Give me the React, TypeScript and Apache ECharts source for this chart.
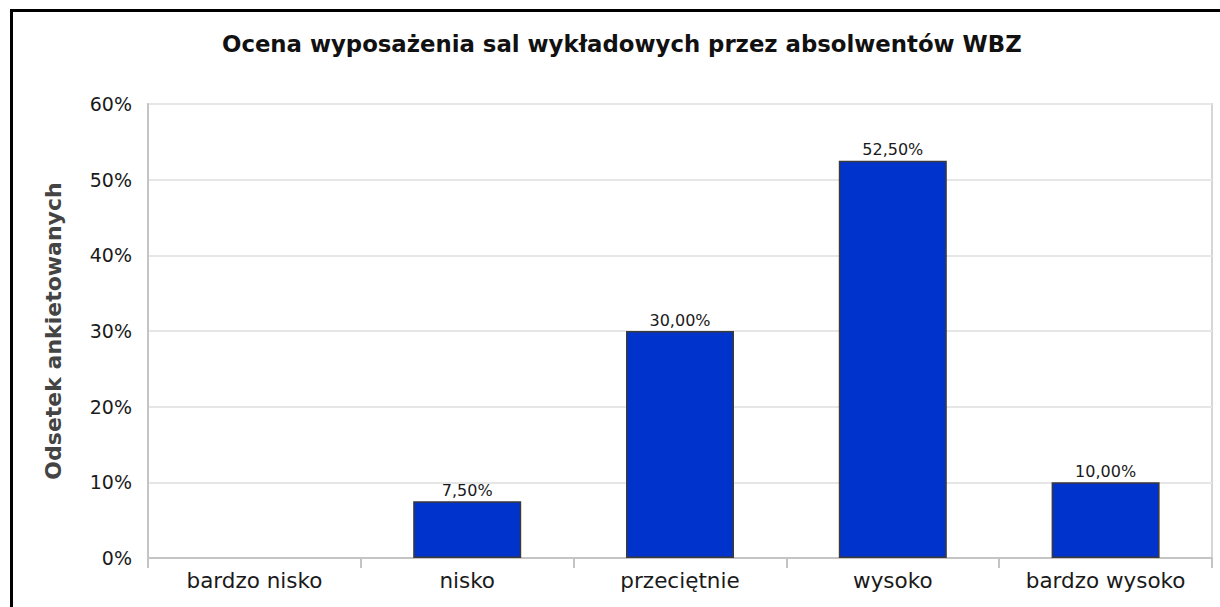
import React, { useEffect, useRef } from "react";
import * as echarts from "echarts";

const titleText = "Ocena wyposażenia sal wykładowych przez absolwentów WBZ";
const yAxisName = "Odsetek ankietowanych";
const categories = ["bardzo nisko", "nisko", "przeciętnie", "wysoko", "bardzo wysoko"];
const values = [0, 7.5, 30, 52.5, 10];
const yMin = 0;
const yMax = 60;
const yInterval = 10;

export default function App() {
  const ref = useRef<HTMLDivElement>(null);
  useEffect(() => {
    if (!ref.current) return;
    const chart = echarts.init(ref.current, undefined, { renderer: "svg" });
    chart.setOption({
      animation: false,
      backgroundColor: "#ffffff",
      title: {
        text: titleText,
        left: 222,
        top: 32,
        padding: 0,
        textStyle: {
          fontFamily: "DejaVu Sans",
          fontWeight: "bold",
          fontSize: 22.8,
          color: "#111111",
        },
      },
      grid: {
        left: 148,
        right: 8,
        top: 104,
        bottom: 49,
        show: true,
        borderColor: "#d6d6d6",
        borderWidth: 2,
        backgroundColor: "transparent",
      },
      xAxis: {
        type: "category",
        data: categories,
        boundaryGap: true,
        axisLine: { show: true, lineStyle: { color: "#c4c4c4", width: 2 } },
        axisTick: { show: true, length: 10, alignWithLabel: false, lineStyle: { color: "#c4c4c4", width: 2 } },
        axisLabel: {
          margin: 11,
          fontFamily: "DejaVu Sans",
          fontSize: 21.5,
          color: "#1a1a1a",
        },
      },
      yAxis: {
        type: "value",
        min: yMin,
        max: yMax,
        interval: yInterval,
        name: yAxisName,
        nameLocation: "middle",
        nameGap: 84,
        nameTextStyle: {
          fontFamily: "DejaVu Sans",
          fontWeight: "bold",
          fontSize: 22,
          color: "#444444",
        },
        axisLine: { show: true, lineStyle: { color: "#c4c4c4", width: 2 } },
        axisTick: { show: false },
        splitLine: { show: true, lineStyle: { color: "#e6e6e6", width: 2 } },
        axisLabel: {
          margin: 16,
          formatter: "{value}%",
          fontFamily: "DejaVu Sans",
          fontSize: 19,
          color: "#1a1a1a",
        },
      },
      series: [
        {
          type: "bar",
          data: values.map((v) =>
            v === 0 ? { value: v, itemStyle: { borderWidth: 0 } } : v
          ),
          barWidth: 108,
          itemStyle: { color: "#0033cc", borderColor: "#3a3a3a", borderWidth: 1.5 },
          label: {
            show: true,
            position: "top",
            distance: 3,
            fontFamily: "DejaVu Sans",
            fontSize: 16,
            color: "#1a1a1a",
            formatter: (p: any) =>
              p.value ? p.value.toFixed(2).replace(".", ",") + "%" : "",
          },
        },
      ],
      graphic: [
        {
          type: "rect",
          shape: { x: 11.5, y: 10.5, width: 1400, height: 800 },
          style: { fill: "none", stroke: "#000000", lineWidth: 3 },
          silent: true,
        },
      ],
    });
    return () => chart.dispose();
  }, []);
  return (
    <div
      ref={ref}
      style={{ position: "fixed", left: 0, top: 0, width: 1220, height: 607 }}
    />
  );
}
